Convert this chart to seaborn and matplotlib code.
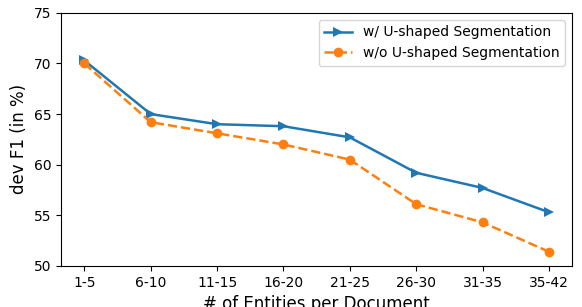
import pandas as pd
import matplotlib
matplotlib.use("Agg")
import matplotlib.pyplot as plt
import seaborn as sns

categories = ["1-5", "6-10", "11-15", "16-20", "21-25", "26-30", "31-35", "35-42"]
with_seg = [70.3, 65.0, 64.0, 63.8, 62.7, 59.2, 57.7, 55.3]
without_seg = [70.0, 64.2, 63.1, 62.0, 60.5, 56.1, 54.3, 51.4]
series_names = ["w/ U-shaped Segmentation", "w/o U-shaped Segmentation"]

df = pd.DataFrame({
    "group": categories * 2,
    "f1": with_seg + without_seg,
    "method": [series_names[0]] * len(categories) + [series_names[1]] * len(categories),
})

plt.rcParams["font.family"] = ["DejaVu Sans"]
fig, ax = plt.subplots(figsize=(5.82, 3.07), dpi=100)

sns.lineplot(
    data=df, x="group", y="f1", hue="method", style="method",
    palette=["#1f77b4", "#ff7f0e"],
    markers={series_names[0]: ">", series_names[1]: "o"},
    dashes={series_names[0]: "", series_names[1]: (3.7, 1.6)},
    markersize=7, markeredgewidth=0, linewidth=1.8, sort=False, ax=ax,
)

ax.set_ylim(50, 75)
ax.set_xlabel("# of Entities per Document", fontsize=12)
ax.set_ylabel("dev F1 (in %)", fontsize=12)
ax.tick_params(labelsize=10)
ax.legend(loc="upper right", fontsize=10, title=None)

fig.subplots_adjust(left=0.105, right=0.983, top=0.958, bottom=0.134)
fig.savefig("out.png", dpi=100)
